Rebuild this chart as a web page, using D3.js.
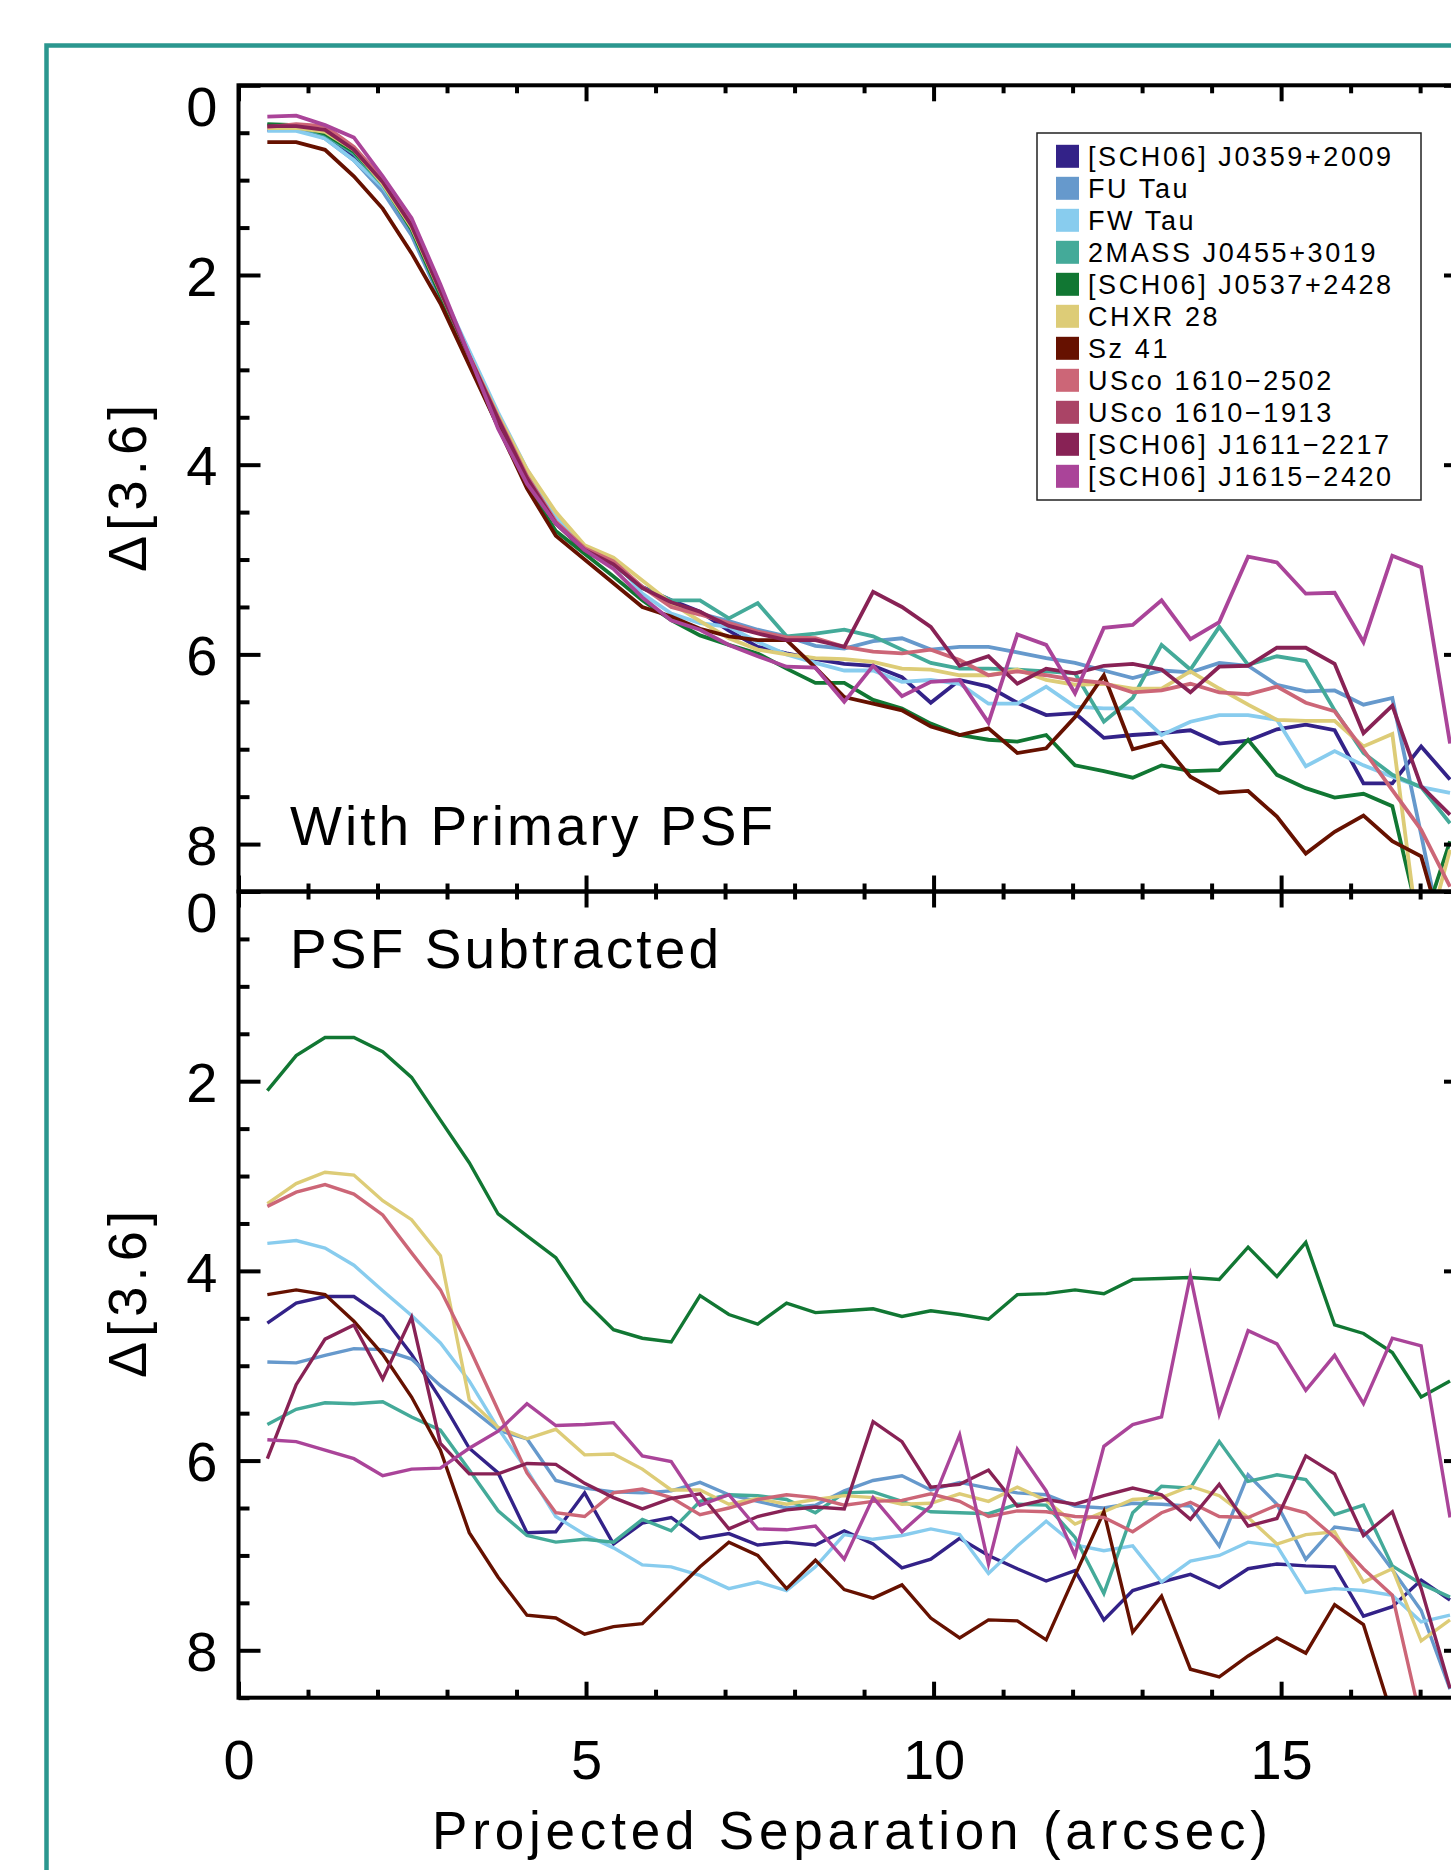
<!DOCTYPE html>
<html><head><meta charset="utf-8">
<script src="https://cdn.jsdelivr.net/npm/d3@7"></script>
<style>
html,body{margin:0;padding:0;background:#fff;overflow:hidden;}
svg{display:block;}
text{font-family:"Liberation Sans", Arial, sans-serif;fill:#000;}
</style></head><body>
<svg id="chart" width="1451" height="1870"></svg>
<script>
// ---------------- data ----------------
const seriesNames = ["[SCH06] J0359+2009","FU Tau","FW Tau","2MASS J0455+3019","[SCH06] J0537+2428",
  "CHXR 28","Sz 41","USco 1610\u22122502","USco 1610\u22121913","[SCH06] J1611\u22122217","[SCH06] J1615\u22122420"];
const seriesColors = ["#332288","#6699CC","#88CCEE","#44AA99","#117733","#DDCC77","#661100","#CC6677","#AA4466","#882255","#AA4499"];

// projected separation of each sample (arcsec)
const separation = [0.415,0.83,1.245,1.66,2.075,2.49,2.905,3.32,3.735,4.15,4.565,4.98,5.395,5.81,6.225,6.64,
  7.055,7.47,7.885,8.3,8.715,9.13,9.545,9.96,10.375,10.79,11.205,11.62,12.035,12.45,12.865,13.28,13.695,
  14.11,14.525,14.94,15.355,15.77,16.185,16.6,17.015,17.43];

const yTickLabels = [0,2,4,6,8];
const xTickLabels = [0,5,10,15];
const panelLabels = ["With Primary PSF","PSF Subtracted"];

// Panel 1: with primary PSF
const topJ0359 = [0.47,0.47,0.54,0.75,1.10,1.56,2.22,2.90,3.55,4.15,4.60,4.92,5.05,5.29,5.43,5.55,5.75,5.92,5.99,6.05,6.10,6.12,6.24,6.51,6.27,6.34,6.51,6.64,6.62,6.88,6.85,6.83,6.80,6.94,6.91,6.79,6.74,6.80,7.36,7.36,6.97,7.32];
const topFUTau = [0.42,0.44,0.56,0.79,1.12,1.58,2.25,2.92,3.55,4.12,4.58,4.90,5.05,5.30,5.45,5.57,5.65,5.74,5.81,5.91,5.94,5.86,5.83,5.95,5.92,5.92,5.98,6.04,6.09,6.17,6.25,6.17,6.19,6.09,6.12,6.32,6.39,6.38,6.53,6.46,7.90,9.40];
const topFWTau = [0.48,0.48,0.56,0.79,1.07,1.50,2.15,2.80,3.45,4.05,4.55,4.88,5.00,5.36,5.57,5.67,5.71,5.87,6.00,6.09,6.17,6.17,6.29,6.27,6.31,6.52,6.52,6.34,6.55,6.57,6.57,6.85,6.71,6.64,6.64,6.69,7.18,7.02,7.17,7.29,7.40,7.46];
const top2MASS = [0.42,0.43,0.52,0.72,1.05,1.52,2.20,2.88,3.55,4.15,4.62,4.90,5.05,5.30,5.43,5.43,5.62,5.46,5.81,5.78,5.74,5.81,5.95,6.09,6.15,6.15,6.16,6.18,6.20,6.71,6.46,5.90,6.16,5.71,6.11,6.02,6.07,6.59,7.04,7.27,7.40,7.78];
const topJ0537 = [0.41,0.42,0.51,0.70,1.03,1.52,2.22,2.92,3.60,4.22,4.70,4.94,5.18,5.43,5.64,5.80,5.90,5.99,6.15,6.30,6.30,6.48,6.57,6.73,6.85,6.90,6.92,6.85,7.17,7.23,7.30,7.17,7.23,7.22,6.90,7.27,7.41,7.51,7.47,7.60,8.90,7.97];
const topCHXR28 = [0.45,0.45,0.49,0.68,1.04,1.50,2.18,2.85,3.48,4.05,4.50,4.85,4.98,5.22,5.46,5.65,5.83,5.95,6.00,6.04,6.05,6.08,6.15,6.16,6.22,6.22,6.16,6.27,6.32,6.31,6.36,6.36,6.18,6.36,6.53,6.69,6.70,6.70,6.97,6.84,9.20,8.06];
const topSz41 = [0.60,0.60,0.68,0.96,1.30,1.77,2.30,2.95,3.60,4.25,4.75,5.00,5.25,5.50,5.60,5.73,5.81,5.85,5.85,6.14,6.45,6.52,6.59,6.76,6.85,6.78,7.04,6.99,6.66,6.22,7.00,6.92,7.29,7.46,7.44,7.71,8.10,7.87,7.70,7.97,8.13,9.20];
const topUSco2502 = [0.44,0.41,0.43,0.65,0.99,1.46,2.15,2.85,3.50,4.12,4.60,4.88,5.02,5.29,5.50,5.58,5.67,5.76,5.82,5.83,5.92,5.97,5.99,5.95,6.06,6.22,6.18,6.22,6.27,6.30,6.40,6.38,6.31,6.40,6.42,6.34,6.51,6.60,7.01,7.43,7.85,8.45];
const topUSco1913 = [];
const topJ1611 = [0.43,0.43,0.47,0.68,1.02,1.48,2.17,2.86,3.52,4.14,4.62,4.90,5.05,5.30,5.45,5.55,5.70,5.78,5.85,5.85,5.92,5.34,5.50,5.71,6.12,6.02,6.31,6.15,6.20,6.12,6.10,6.16,6.40,6.13,6.12,5.93,5.93,6.10,6.83,6.54,7.39,7.69];
const topJ1615 = [0.33,0.32,0.42,0.55,0.96,1.40,2.10,2.85,3.62,4.20,4.62,4.90,5.10,5.40,5.64,5.74,5.90,6.02,6.13,6.14,6.50,6.12,6.44,6.29,6.27,6.72,5.79,5.90,6.41,5.72,5.69,5.43,5.84,5.66,4.97,5.03,5.36,5.35,5.87,4.96,5.08,6.94];

// Panel 2: PSF subtracted
const botJ0359 = [4.55,4.34,4.27,4.27,4.48,4.88,5.35,5.87,6.13,6.76,6.75,6.34,6.88,6.66,6.60,6.82,6.77,6.89,6.86,6.89,6.74,6.88,7.13,7.04,6.82,7.00,7.14,7.27,7.16,7.68,7.37,7.28,7.20,7.34,7.14,7.09,7.11,7.12,7.64,7.54,7.26,7.47];
const botFUTau = [4.96,4.97,4.89,4.82,4.83,4.93,5.21,5.44,5.68,5.77,6.21,6.29,6.33,6.34,6.32,6.23,6.36,6.43,6.50,6.47,6.32,6.21,6.16,6.31,6.23,6.29,6.34,6.36,6.48,6.50,6.45,6.46,6.48,6.90,6.15,6.46,7.04,6.70,6.74,7.15,7.58,8.41];
const botFWTau = [3.71,3.68,3.76,3.94,4.21,4.47,4.76,5.16,5.66,6.10,6.59,6.78,6.92,7.10,7.12,7.21,7.35,7.28,7.37,7.12,6.78,6.83,6.79,6.72,6.78,7.19,6.90,6.64,6.89,6.95,6.90,7.28,7.06,7.00,6.86,6.90,7.39,7.35,7.37,7.42,7.70,7.63];
const bot2MASS = [5.62,5.46,5.39,5.40,5.38,5.54,5.68,6.10,6.53,6.79,6.86,6.83,6.86,6.62,6.74,6.43,6.36,6.37,6.41,6.55,6.34,6.33,6.43,6.54,6.55,6.56,6.46,6.47,6.81,7.40,6.55,6.27,6.29,5.80,6.22,6.15,6.20,6.57,6.47,7.11,7.30,7.44];
const botJ0537 = [2.10,1.73,1.54,1.54,1.69,1.96,2.41,2.86,3.40,3.63,3.86,4.32,4.62,4.71,4.75,4.26,4.46,4.56,4.34,4.44,4.42,4.40,4.48,4.42,4.46,4.51,4.25,4.24,4.20,4.24,4.09,4.08,4.07,4.09,3.75,4.06,3.70,4.57,4.66,4.86,5.33,5.16];
const botCHXR28 = [3.29,3.08,2.96,2.99,3.26,3.46,3.84,5.36,5.65,5.77,5.67,5.94,5.93,6.09,6.31,6.31,6.46,6.40,6.46,6.41,6.37,6.39,6.46,6.45,6.35,6.43,6.28,6.42,6.67,6.54,6.41,6.39,6.27,6.37,6.60,6.88,6.78,6.75,7.28,7.14,7.90,7.68];
const botSz41 = [4.25,4.20,4.25,4.53,4.88,5.33,5.89,6.76,7.23,7.63,7.66,7.83,7.75,7.72,7.42,7.12,6.86,7.00,7.35,7.05,7.36,7.45,7.31,7.66,7.87,7.68,7.69,7.89,7.21,6.54,7.81,7.43,8.20,8.28,8.06,7.87,8.03,7.52,7.73,8.70,9.50,9.50];
const botUSco2502 = [3.32,3.17,3.09,3.19,3.41,3.81,4.20,4.81,5.47,6.13,6.55,6.59,6.34,6.30,6.39,6.57,6.50,6.41,6.36,6.39,6.47,6.43,6.42,6.35,6.43,6.59,6.53,6.54,6.59,6.60,6.75,6.55,6.44,6.59,6.60,6.47,6.55,6.81,7.14,7.42,8.75,9.50];
const botUSco1913 = [];
const botJ1611 = [5.98,5.20,4.72,4.57,5.14,4.49,5.82,6.14,6.14,6.03,6.04,6.24,6.39,6.51,6.40,6.35,6.72,6.59,6.52,6.49,6.51,5.59,5.80,6.28,6.25,6.10,6.48,6.41,6.46,6.37,6.29,6.36,6.62,6.25,6.69,6.61,5.95,6.14,6.79,6.54,7.35,8.40];
const botJ1615 = [5.78,5.80,5.89,5.98,6.16,6.09,6.08,5.87,5.69,5.40,5.63,5.62,5.60,5.95,6.01,6.47,6.36,6.72,6.73,6.69,7.04,6.39,6.75,6.48,5.73,7.09,5.88,6.32,7.00,5.85,5.62,5.54,4.05,5.51,4.63,4.77,5.26,4.89,5.40,4.71,4.79,6.60];

const topSeries = [topJ0359,topFUTau,topFWTau,top2MASS,topJ0537,topCHXR28,topSz41,topUSco2502,topUSco1913,topJ1611,topJ1615];
const botSeries = [botJ0359,botFUTau,botFWTau,bot2MASS,botJ0537,botCHXR28,botSz41,botUSco2502,botUSco1913,botJ1611,botJ1615];

// ---------------- drawing ----------------
const svg = d3.select("#chart");
const xLeft = 238.5, xRight = 1466;
const x = d3.scaleLinear().domain([0, 17.66]).range([xLeft, xRight]);

// outer teal frame
svg.append("rect").attr("x",46.5).attr("y",45.5).attr("width",2000).attr("height",2000)
  .attr("fill","none").attr("stroke","#2b978f").attr("stroke-width",4.5);

const panels = [
  {data: topSeries, y: d3.scaleLinear().domain([0,8.5]).range([85.3,891.5]), label: panelLabels[0],
   labelY: 845, labelW: 483, lw: 3.8, xLabels: false},
  {data: botSeries, y: d3.scaleLinear().domain([0,8.5]).range([891.5,1697.7]), label: panelLabels[1],
   labelY: 968, labelW: 429, lw: 3.4, xLabels: true}
];

const yMinor = d3.range(0, 8.51, 0.5).filter(v => v % 2 !== 0);
const xMinor = d3.range(0, 18, 1).filter(v => v % 5 !== 0);
const noDomain = g => g.select(".domain").remove();

panels.forEach((p, pi) => {
  const y = p.y;
  const [yT, yB] = [y.range()[0], y.range()[1]];
  const g = svg.append("g");
  const clipId = "clip" + pi;
  g.append("clipPath").attr("id", clipId).append("rect")
    .attr("x", xLeft).attr("y", yT).attr("width", xRight - xLeft).attr("height", yB - yT);

  const line = d3.line()
    .defined(d => d[1] != null)
    .x(d => x(d[0])).y(d => y(d[1]));

  const lg = g.append("g").attr("clip-path", `url(#${clipId})`);
  p.data.forEach((vals, si) => {
    if (!vals.length) return;
    const pts = vals.map((v, i) => [separation[i], v]);
    lg.append("path").datum(pts).attr("d", line)
      .attr("fill","none").attr("stroke", seriesColors[si])
      .attr("stroke-width", p.lw).attr("stroke-linejoin","miter").attr("stroke-miterlimit",6);
  });

  const axStyle = sel => sel.selectAll("line").attr("stroke","#000").attr("stroke-width",4);

  // left axis
  const left = g.append("g").attr("transform",`translate(${xLeft},0)`)
    .call(d3.axisLeft(y).tickValues(yTickLabels).tickSize(-22).tickPadding(21).tickFormat(d3.format("d")))
    .call(noDomain).call(axStyle);
  left.selectAll("text").attr("font-size",56).attr("dy","0.36em")
    .attr("font-family",'"Liberation Sans", Arial, sans-serif').attr("fill","#000")
    .filter(d => d === 0).attr("transform","translate(0,20)");
  g.append("g").attr("transform",`translate(${xLeft},0)`)
    .call(d3.axisLeft(y).tickValues(yMinor).tickSize(-11).tickFormat(""))
    .call(noDomain).call(axStyle);
  // right axis
  g.append("g").attr("transform",`translate(${xRight},0)`)
    .call(d3.axisRight(y).tickValues(yTickLabels).tickSize(-22).tickFormat(""))
    .call(noDomain).call(axStyle);
  g.append("g").attr("transform",`translate(${xRight},0)`)
    .call(d3.axisRight(y).tickValues(yMinor).tickSize(-11).tickFormat(""))
    .call(noDomain).call(axStyle);
  // top axis
  g.append("g").attr("transform",`translate(0,${yT})`)
    .call(d3.axisTop(x).tickValues(xTickLabels).tickSize(-16).tickFormat(""))
    .call(noDomain).call(axStyle);
  g.append("g").attr("transform",`translate(0,${yT})`)
    .call(d3.axisTop(x).tickValues(xMinor).tickSize(-8).tickFormat(""))
    .call(noDomain).call(axStyle);
  // bottom axis
  const bot = g.append("g").attr("transform",`translate(0,${yB})`)
    .call(d3.axisBottom(x).tickValues(xTickLabels).tickSize(-16).tickPadding(42)
      .tickFormat(p.xLabels ? d3.format("d") : ""))
    .call(noDomain).call(axStyle);
  bot.selectAll("text").attr("font-size",56)
    .attr("font-family",'"Liberation Sans", Arial, sans-serif').attr("fill","#000");
  g.append("g").attr("transform",`translate(0,${yB})`)
    .call(d3.axisBottom(x).tickValues(xMinor).tickSize(-8).tickFormat(""))
    .call(noDomain).call(axStyle);

  // frame
  g.append("rect").attr("x",xLeft).attr("y",yT).attr("width",xRight-xLeft).attr("height",yB-yT)
    .attr("fill","none").attr("stroke","#000").attr("stroke-width",4);

  // panel label
  g.append("text").attr("x",290).attr("y",p.labelY).attr("font-size",55)
    .attr("textLength",p.labelW).attr("lengthAdjust","spacing").text(p.label);

  // y title
  const cy = (yT + yB) / 2;
  g.append("text").attr("transform",`translate(127,${cy}) rotate(-90)`)
    .attr("text-anchor","middle").attr("dy","0.36em").attr("font-size",54)
    .attr("textLength",167).attr("lengthAdjust","spacing").text("\u0394[3.6]");
});

// x title
svg.append("text").attr("x",850).attr("y",1849).attr("text-anchor","middle")
  .attr("font-size",53).attr("textLength",836).attr("lengthAdjust","spacing")
  .text("Projected Separation (arcsec)");

// legend
const lgX = 1037, lgY = 133, lgW = 384, lgH = 367;
const leg = svg.append("g");
leg.append("rect").attr("x",lgX).attr("y",lgY).attr("width",lgW).attr("height",lgH)
  .attr("fill","#fff").attr("stroke","#222").attr("stroke-width",1.5);
const rows = leg.selectAll("g.row").data(seriesNames).join("g")
  .attr("transform",(d,i)=>`translate(0,${156.3 + 32*i})`);
rows.append("rect").attr("x",1056).attr("y",-11.5).attr("width",23).attr("height",23)
  .attr("fill",(d,i)=>seriesColors[i]);
rows.append("text").attr("x",1088).attr("y",9.7).attr("font-size",27)
  .attr("letter-spacing","2.6px").text(d=>d);
</script>
</body></html>
